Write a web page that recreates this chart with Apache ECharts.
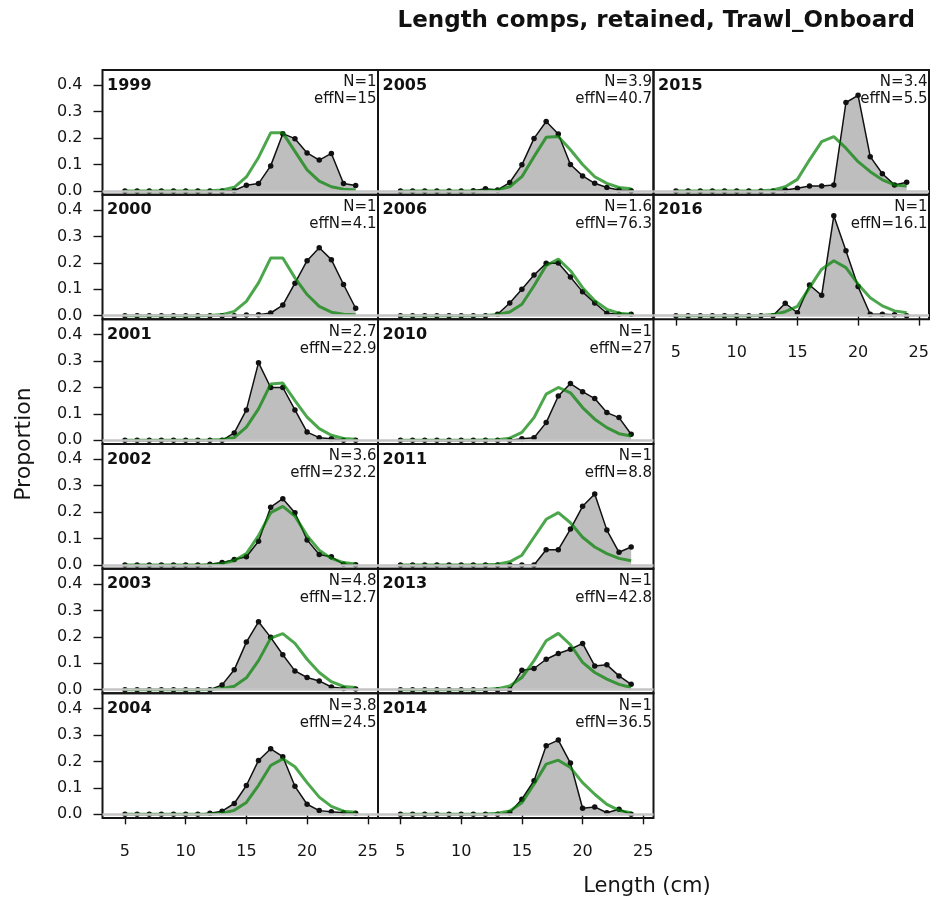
<!DOCTYPE html>
<html><head><meta charset="utf-8">
<script src="https://cdn.jsdelivr.net/npm/echarts@6/dist/echarts.min.js"></script>
<style>html,body{margin:0;padding:0;background:#fff}#c{width:930px;height:909px}</style>
</head><body><div id="c"></div>
<script>
// ---- data ----
const lengths = [5,6,7,8,9,10,11,12,13,14,15,16,17,18,19,20,21,22,23,24];
const years   = ['1999','2000','2001','2002','2003','2004','2005','2006','2010','2011','2013','2014','2015','2016'];
const nLabels    = ['N=1','N=1','N=2.7','N=3.6','N=4.8','N=3.8','N=3.9','N=1.6','N=1','N=1','N=1','N=1','N=3.4','N=1'];
const effNLabels = ['effN=15','effN=4.1','effN=22.9','effN=232.2','effN=12.7','effN=24.5','effN=40.7','effN=76.3','effN=27','effN=8.8','effN=42.8','effN=36.5','effN=5.5','effN=16.1'];
const yTicks = [0,0.1,0.2,0.3,0.4];
const xTicks = [5,10,15,20,25];

// observed proportions (lengths 5..24)
const obs1999 = [0,0,0,0,0,0,0,0,0,0.002,0.022,0.028,0.095,0.217,0.198,0.144,0.117,0.142,0.028,0.021];
const obs2000 = [0,0,0,0,0,0,0,0,0,0,0.002,0.003,0.010,0.040,0.123,0.208,0.257,0.212,0.118,0.028];
const obs2001 = [0,0,0,0,0,0,0,0,0,0.028,0.115,0.294,0.200,0.200,0.115,0.031,0.010,0.006,0,0];
const obs2002 = [0,0,0,0,0,0,0,0.003,0.009,0.021,0.031,0.090,0.219,0.251,0.198,0.095,0.040,0.031,0.003,0.001];
const obs2003 = [0,0,0,0,0,0,0,0,0.018,0.075,0.180,0.257,0.198,0.132,0.071,0.046,0.033,0.010,0.004,0.002];
const obs2004 = [0,0,0,0,0,0,0,0.004,0.012,0.041,0.109,0.204,0.248,0.218,0.106,0.038,0.014,0.010,0.006,0.004];
const obs2005 = [0,0,0,0,0,0,0.001,0.008,0.004,0.032,0.099,0.199,0.263,0.216,0.100,0.057,0.029,0.013,0.004,0.001];
const obs2006 = [0,0,0,0,0,0,0,0,0.005,0.048,0.100,0.154,0.198,0.199,0.146,0.090,0.048,0.009,0.005,0.005];
const obs2010 = [0,0,0,0,0,0,0,0,0,0,0.006,0.010,0.067,0.168,0.215,0.184,0.158,0.105,0.086,0.023];
const obs2011 = [0,0,0,0,0,0,0,0,0,0,0,0,0.058,0.058,0.136,0.222,0.269,0.132,0.048,0.068];
const obs2013 = [0,0,0,0,0,0,0,0,0,0,0.073,0.080,0.115,0.137,0.153,0.175,0.090,0.094,0.052,0.020];
const obs2014 = [0,0,0,0,0,0,0,0,0,0.006,0.057,0.127,0.260,0.281,0.194,0.023,0.028,0.006,0.019,0];
const obs2015 = [0,0,0,0,0,0,0,0,0,0.004,0.010,0.019,0.019,0.023,0.335,0.362,0.130,0.065,0.023,0.033];
const obs2016 = [0,0,0,0,0,0,0,0,0,0.047,0.011,0.116,0.077,0.378,0.246,0.110,0.005,0.005,0.003,0];

// expected proportions (lengths 5..24)
const exp1999 = [0,0,0,0,0,0,0,0.001,0.004,0.014,0.053,0.127,0.220,0.220,0.150,0.080,0.037,0.016,0.007,0.004];
const exp2000 = [0,0,0,0,0,0,0,0.001,0.004,0.016,0.054,0.124,0.218,0.218,0.143,0.080,0.035,0.013,0.005,0.003];
const exp2001 = [0,0,0,0,0,0,0,0.001,0.003,0.010,0.050,0.119,0.213,0.217,0.150,0.088,0.044,0.019,0.007,0.004];
const exp2002 = [0,0,0,0,0,0,0,0.001,0.005,0.017,0.043,0.111,0.198,0.222,0.185,0.111,0.056,0.025,0.009,0.004];
const exp2003 = [0,0,0,0,0,0,0,0.001,0.004,0.013,0.045,0.110,0.195,0.212,0.175,0.115,0.065,0.030,0.012,0.008];
const exp2004 = [0,0,0,0,0,0,0,0.001,0.004,0.015,0.045,0.110,0.185,0.210,0.180,0.120,0.065,0.030,0.012,0.008];
const exp2005 = [0,0,0,0,0,0,0,0.001,0.004,0.016,0.054,0.130,0.203,0.206,0.156,0.100,0.054,0.029,0.013,0.008];
const exp2006 = [0,0,0,0,0,0,0,0.001,0.004,0.014,0.043,0.113,0.190,0.214,0.170,0.106,0.056,0.024,0.009,0.005];
const exp2010 = [0,0,0,0,0,0,0,0.001,0.002,0.008,0.030,0.086,0.175,0.200,0.180,0.124,0.080,0.048,0.025,0.016];
const exp2011 = [0,0,0,0,0,0,0,0.001,0.003,0.012,0.037,0.105,0.173,0.198,0.160,0.105,0.068,0.043,0.025,0.016];
const exp2013 = [0,0,0,0,0,0,0,0.001,0.004,0.014,0.046,0.110,0.185,0.213,0.170,0.103,0.065,0.040,0.020,0.008];
const exp2014 = [0,0,0,0,0,0,0,0.001,0.004,0.013,0.044,0.114,0.190,0.205,0.177,0.120,0.076,0.038,0.015,0.006];
const exp2015 = [0,0,0,0,0,0,0,0.001,0.004,0.016,0.044,0.118,0.187,0.206,0.162,0.111,0.073,0.042,0.023,0.019];
const exp2016 = [0,0,0,0,0,0,0,0.001,0.004,0.015,0.035,0.106,0.176,0.208,0.182,0.119,0.068,0.037,0.018,0.011];

const observed = [obs1999,obs2000,obs2001,obs2002,obs2003,obs2004,obs2005,obs2006,obs2010,obs2011,obs2013,obs2014,obs2015,obs2016];
const expected = [exp1999,exp2000,exp2001,exp2002,exp2003,exp2004,exp2005,exp2006,exp2010,exp2011,exp2013,exp2014,exp2015,exp2016];

// ---- layout ----
const FONT = 'DejaVu Sans';
const L0 = 102.5, PW = 275.5, T0 = 70, PH = 124.67, NROW = 6;
const XMIN = 3.15, XMAX = 25.84, YMIN = -0.014, YMAX = 0.458;
const TXT = '#151515';

const grids = [], xAxes = [], yAxes = [], series = [], graphics = [];
years.forEach((yr, i) => {
  const col = Math.floor(i / NROW), row = i % NROW;
  const left = L0 + col * PW, top = T0 + row * PH;
  const isBottom = (col < 2 && row === NROW - 1) || (col === 2 && row === 1);
  grids.push({left: left, top: top, width: PW, height: PH, show: true,
    borderColor: '#151515', borderWidth: 2, backgroundColor: 'transparent', outerBoundsMode: 'none'});
  xAxes.push({type: 'value', gridIndex: i, min: XMIN, max: XMAX,
    axisLine: {show: false}, splitLine: {show: false},
    axisTick: {show: isBottom, customValues: xTicks, length: 10, lineStyle: {color: TXT, width: 1.4}},
    axisLabel: {show: isBottom, customValues: xTicks, margin: 26, fontSize: 16, fontFamily: FONT, color: TXT}});
  yAxes.push({type: 'value', gridIndex: i, min: YMIN, max: YMAX,
    axisLine: {show: false}, splitLine: {show: false},
    axisTick: {show: col === 0, customValues: yTicks, length: 9, lineStyle: {color: TXT, width: 1.4}},
    axisLabel: {show: col === 0, customValues: yTicks, margin: 20, fontSize: 16, fontFamily: FONT, color: TXT,
      formatter: v => v.toFixed(1)}});
  series.push({type: 'line', xAxisIndex: i, yAxisIndex: i, data: [], silent: true, z: 1,
    markLine: {symbol: 'none', silent: true, label: {show: false}, animation: false,
      lineStyle: {color: '#c4c4c4', width: 2.5, type: 'solid'}, data: [{yAxis: 0}]}});
  series.push({type: 'line', xAxisIndex: i, yAxisIndex: i, z: 2,
    data: lengths.map((x, j) => [x, observed[i][j]]),
    symbol: 'circle', symbolSize: 5.5, showSymbol: true,
    itemStyle: {color: '#111'}, lineStyle: {color: '#111', width: 1.5},
    areaStyle: {color: '#bebebe', opacity: 1}});
  series.push({type: 'line', xAxisIndex: i, yAxisIndex: i, z: 3,
    data: lengths.map((x, j) => [x, expected[i][j]]),
    symbol: 'none', lineStyle: {color: 'rgba(0,128,0,0.7)', width: 3}});
  graphics.push({type: 'text', x: left + 4.5, y: top + 15.5, z: 10,
    style: {text: yr, font: 'bold 16px "' + FONT + '"', fill: '#111', textAlign: 'left', textVerticalAlign: 'middle'}});
  graphics.push({type: 'text', x: left + PW - 1.5, y: top + 12.5, z: 10,
    style: {text: nLabels[i], font: '15px "' + FONT + '"', fill: TXT, textAlign: 'right', textVerticalAlign: 'middle'}});
  graphics.push({type: 'text', x: left + PW - 1.5, y: top + 29.5, z: 10,
    style: {text: effNLabels[i], font: '15px "' + FONT + '"', fill: TXT, textAlign: 'right', textVerticalAlign: 'middle'}});
});
graphics.push({type: 'text', x: 915, y: 21, style: {text: 'Length comps, retained, Trawl_Onboard',
  font: 'bold 23px "' + FONT + '"', fill: '#111', textAlign: 'right', textVerticalAlign: 'middle'}});
graphics.push({type: 'text', x: 24, y: 444, rotation: Math.PI / 2, style: {text: 'Proportion',
  font: '22px "' + FONT + '"', fill: TXT, textAlign: 'center', textVerticalAlign: 'middle'}});
graphics.push({type: 'text', x: 647, y: 887, style: {text: 'Length (cm)',
  font: '21px "' + FONT + '"', fill: TXT, textAlign: 'center', textVerticalAlign: 'middle'}});

const chart = echarts.init(document.getElementById('c'), null, {renderer: 'canvas'});
chart.setOption({animation: false, backgroundColor: '#fff', grid: grids, xAxis: xAxes, yAxis: yAxes,
  series: series, graphic: graphics});
</script></body></html>
